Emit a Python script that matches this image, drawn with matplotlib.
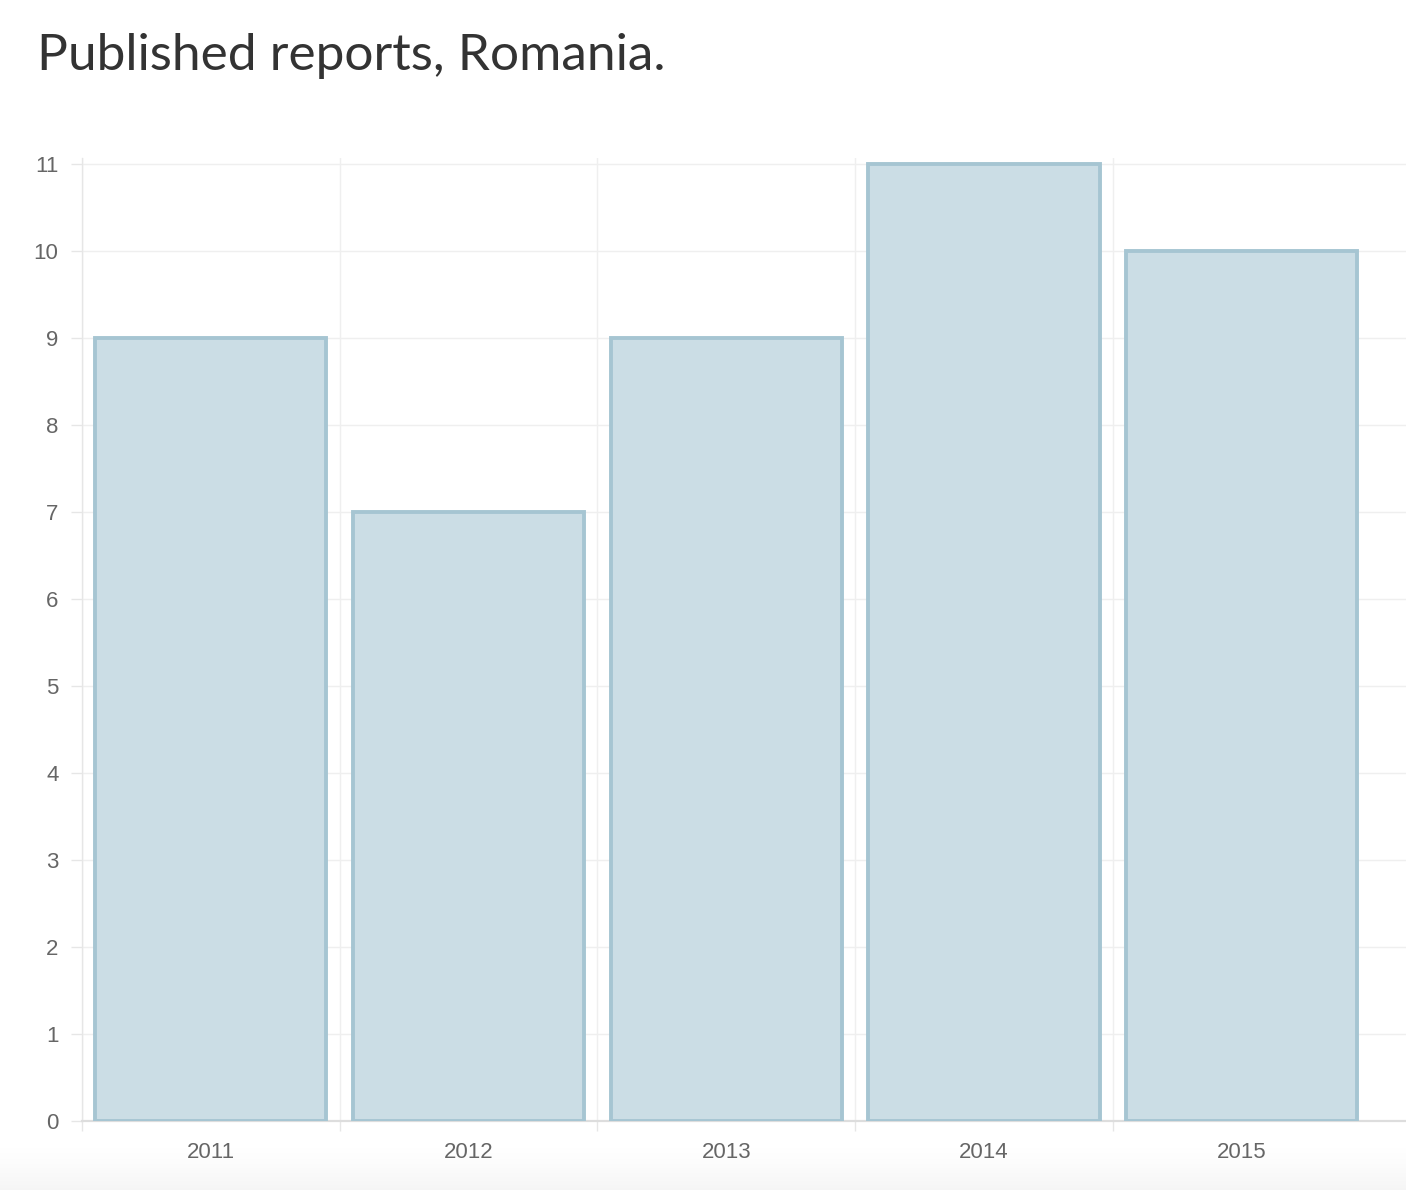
import matplotlib.pyplot as plt
import numpy as np

years = ['2011', '2012', '2013', '2014', '2015']
reports = [9, 7, 9, 11, 10]
y_ticks = list(range(0, 12))

W, H = 1406, 1190
fig = plt.figure(figsize=(W / 100, H / 100), dpi=100)
fig.patch.set_facecolor('white')

# faint shadow band at the very bottom (white at top -> light grey at bottom)
shade = fig.add_axes([0, 0, 1, 42 / H])
t = np.linspace(0, 1, 120) ** 0.8          # 0 at bottom row, 1 at top row
level = 0.962 + (1.0 - 0.962) * t
img = np.repeat(level[:, None, None], 3, axis=2)
shade.imshow(img, aspect='auto', extent=[0, 1, 0, 1], origin='lower',
             interpolation='bilinear')
shade.axis('off')

ax = fig.add_axes([82 / W, (H - 1121) / H, 1 - 82 / W, (1121 - 158) / H])
ax.patch.set_alpha(0)

x = np.arange(len(years))
ax.bar(x, reports, width=0.897, color='#cbdde5', edgecolor='#a6c5d2',
       linewidth=2.8, zorder=3)

ax.set_xlim(-0.5, -0.5 + (W - 82) / 257.7)
ax.set_ylim(0, 11 + 6 / 87)

ax.set_yticks(y_ticks)
ax.set_xticks(x)
ax.set_xticklabels(years)
ax.set_xticks([-0.5, 0.5, 1.5, 2.5, 3.5], minor=True)

ax.grid(axis='y', which='major', color='#efefef', linewidth=1.0, zorder=0)
ax.grid(axis='x', which='minor', color='#efefef', linewidth=1.0, zorder=0)

ax.tick_params(axis='x', which='major', length=0, pad=15, labelsize=16,
               labelcolor='#666666')
ax.tick_params(axis='x', which='minor', length=7, width=1.0, color='#e6e6e6')
ax.tick_params(axis='y', length=8, width=1.0, color='#e6e6e6', pad=9,
               labelsize=16, labelcolor='#666666')

for s in ['top', 'right']:
    ax.spines[s].set_visible(False)
ax.spines['left'].set_color('#e6e6e6')
ax.spines['left'].set_linewidth(1.0)
ax.spines['bottom'].set_color('#dddddd')
ax.spines['bottom'].set_linewidth(1.6)
ax.set_axisbelow(True)

for lab in ax.get_xticklabels() + ax.get_yticklabels():
    lab.set_fontfamily(['Liberation Sans', 'DejaVu Sans'])

fig.text(37 / W, 1 - 70 / H, 'Published reports, Romania.', fontsize=37,
         color='#333333', fontfamily=['Lato', 'DejaVu Sans'], fontweight='normal',
         ha='left', va='baseline')

fig.savefig('out.png', dpi=100, facecolor='white')
